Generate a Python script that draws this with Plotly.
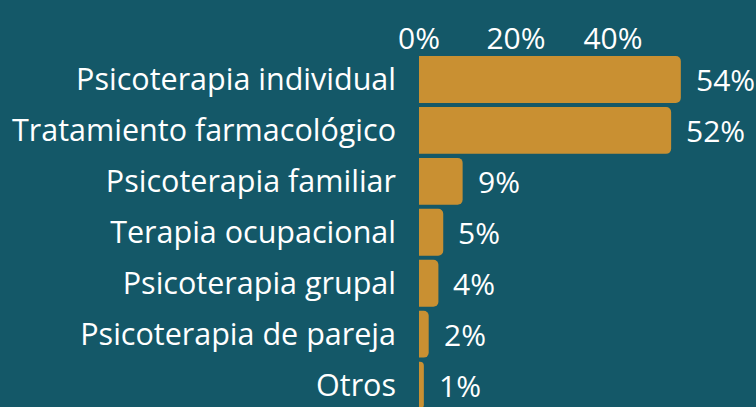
import plotly.graph_objects as go

categories = ["Psicoterapia individual", "Tratamiento farmacológico", "Psicoterapia familiar",
              "Terapia ocupacional", "Psicoterapia grupal", "Psicoterapia de pareja", "Otros"]
values = [54, 52, 9, 5, 4, 2, 1]
tick_vals = [0, 20, 40]
tick_text = ["0%", "20%", "40%"]

BG = "#145868"
BAR = "#C99032"
FONT = "Open Sans"

fig = go.Figure(go.Bar(
    x=values, y=categories, orientation="h",
    marker=dict(color=BAR, line=dict(width=0)),
    hoverinfo="skip",
))

annotations = [
    dict(x=v, y=c, xref="x", yref="y", text=f"{v}%", showarrow=False,
         xanchor="left", xshift=13, font=dict(family=FONT, size=30, color="white"))
    for c, v in zip(categories, values)
]

fig.update_layout(
    width=756, height=407,
    margin=dict(l=419, r=0, t=54, b=0),
    paper_bgcolor=BG, plot_bgcolor=BG,
    bargap=0.08, barcornerradius=5,
    showlegend=False,
    font=dict(family=FONT, size=30, color="white"),
    annotations=annotations,
    xaxis=dict(side="top", range=[0, 69.5], tickvals=tick_vals, ticktext=tick_text,
               showgrid=False, zeroline=False, showline=False, ticks="",
               ticklabelstandoff=-2,
               tickfont=dict(family=FONT, size=30, color="white")),
    yaxis=dict(categoryorder="array", categoryarray=categories, range=[6.43, -0.5],
               showgrid=False, zeroline=False, showline=False, ticks="",
               ticklabelstandoff=22,
               tickfont=dict(family=FONT, size=30.5, color="white")),
)

fig.write_html("out.html", config={"displayModeBar": False},
               post_script="document.body.style.margin='0';document.body.style.overflow='hidden';document.body.style.background='" + BG + "';")
